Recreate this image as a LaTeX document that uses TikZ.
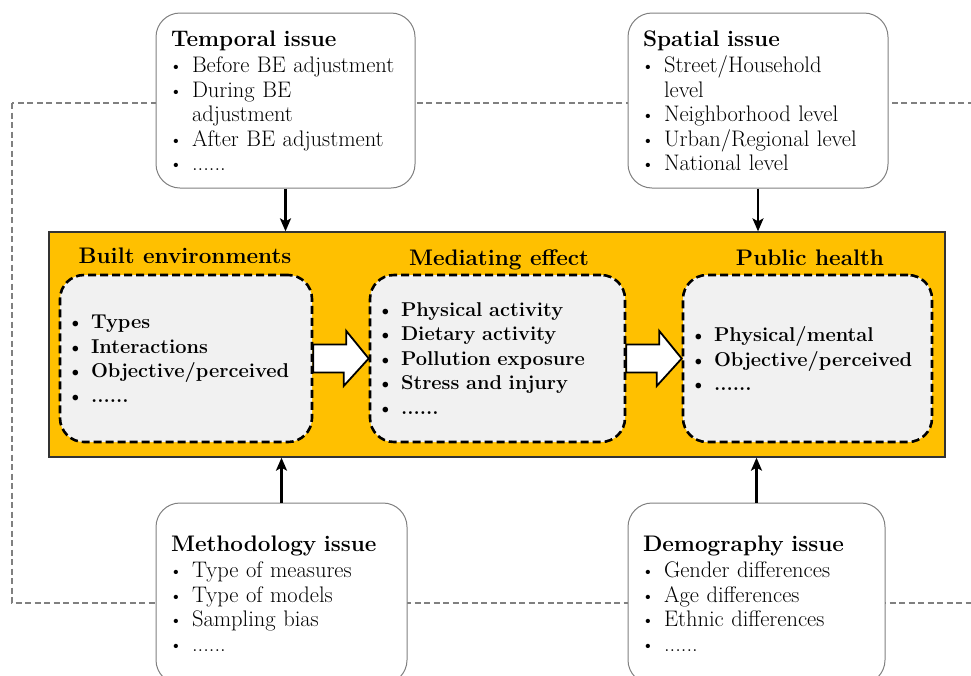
\documentclass[tikz,border=0pt]{standalone}
\usepackage{fontspec}
\usetikzlibrary{arrows.meta, calc}
\definecolor{panelorange}{RGB}{255,192,0}
\definecolor{innergray}{RGB}{241,241,241}
\newcommand{\dotmark}{\hspace*{-2pt}{\fontsize{19}{19}\selectfont\textbullet}}
\newcommand{\itm}{\makebox[21pt][l]{\dotmark}}
\newcommand{\bitm}{\makebox[22pt][l]{\dotmark}}
\newcommand{\cnt}{\hspace*{21pt}}

\begin{document}
\begin{tikzpicture}[x=1pt, y=-1pt, font=\fontsize{22.5}{24.5}\selectfont]

        \tikzstyle{issue} = [rectangle, rounded corners=24pt, draw=black!50, line width=1pt, fill=white, align=left, inner xsep=15pt, inner ysep=0pt]
        \tikzstyle{panel} = [rectangle, draw=black!80, line width=1.3pt, fill=panelorange, minimum width=896pt, minimum height=225pt]
        \tikzstyle{inner} = [rectangle, rounded corners=24pt, draw=black, dash pattern=on 8pt off 4pt, line width=2.6pt, fill=innergray, minimum height=167pt, align=left, inner xsep=9pt, font=\fontsize{20}{24.5}\selectfont\bfseries]
        \tikzstyle{title} = [anchor=base, font=\fontsize{22.5}{24.5}\selectfont\bfseries]
        \tikzstyle{frame} = [draw=black!50, dash pattern=on 6pt off 3.5pt, line width=1.5pt]
        \tikzstyle{arrow} = [line width=2.2pt,-{Stealth[length=13pt,width=11pt,inset=3pt]}]
        \tikzstyle{bigarrow} = [draw=black, fill=white, line width=1.8pt, line join=miter]

        \useasboundingbox (0,0) rectangle (971,675);
        \clip (0,0) rectangle (971,675);

        \draw [frame] (12,103) rectangle (995,603);

        \node (temporal) [issue, text width=229pt, minimum height=175pt] at (285.5,100.5) {\textbf{Temporal issue}\\[2pt] \itm Before BE adjustment\\ \itm During BE\\ \cnt adjustment\\ \itm After BE adjustment\\ \itm ......};
        \node (spatial) [issue, text width=230pt, minimum height=175pt] at (758,100.5) {\textbf{Spatial issue}\\[2pt] \itm Street/Household\\ \cnt level\\ \itm Neighborhood level\\ \itm Urban/Regional level\\ \itm National level};
        \node (method) [issue, text width=221pt, minimum height=181pt] at (281.5,593.5) {\textbf{Methodology issue}\\[2pt] \itm Type of measures\\ \itm Type of models\\ \itm Sampling bias\\ \itm ......};
        \node (demog) [issue, text width=227pt, minimum height=181pt] at (756.5,593.5) {\textbf{Demography issue}\\[2pt] \itm Gender differences\\ \itm Age differences\\ \itm Ethnic differences\\ \itm ......};

        \node (panel) [panel] at (497,344.5) {};
        \node (betitle) [title] at (185,263) {Built environments};
        \node (metitle) [title] at (499,265) {Mediating effect};
        \node (phtitle) [title] at (810,265.5) {Public health};

        \node (be) [inner, text width=234pt] at (186,358.5) {\bitm Types\\ \bitm Interactions\\ \bitm Objective/perceived\\ \bitm ......};
        \node (me) [inner, text width=237pt] at (497.5,358.5) {\bitm Physical activity\\ \bitm Dietary activity\\ \bitm Pollution exposure\\ \bitm Stress and injury\\ \bitm ......};
        \node (ph) [inner, text width=231pt] at (807.5,358.5) {\bitm Physical/mental\\ \bitm Objective/perceived\\ \bitm ......};

        \draw [bigarrow] ($(be.east)+(0,-14)$) -- ++(33,0) -- ++(0,-13.5) -- (me.west) -- ($(me.west)+(-25,27.5)$) -- ++(0,-13.5) -- ($(be.east)+(0,14)$) -- cycle;
        \draw [bigarrow] ($(me.east)+(0,-14)$) -- ++(33,0) -- ++(0,-13.5) -- (ph.west) -- ($(ph.west)+(-25,27.5)$) -- ++(0,-13.5) -- ($(me.east)+(0,14)$) -- cycle;

        \draw [arrow] (temporal) -- (temporal |- panel.north);
        \draw [arrow] (spatial) -- (spatial |- panel.north);
        \draw [arrow] (method) -- (method |- panel.south);
        \draw [arrow] (demog) -- (demog |- panel.south);
    \end{tikzpicture}
\end{document}
